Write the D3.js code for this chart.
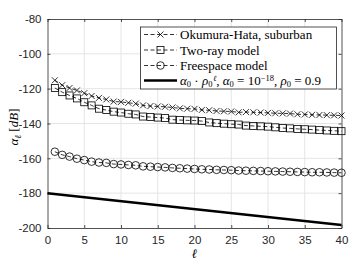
<!DOCTYPE html>
<html lang="en">
<head>
    <meta charset="UTF-8">
    <title>Path loss vs l</title>
    <script src="https://d3js.org/d3.v7.min.js"></script>
    <style>
        body { margin: 0; background: #fff; }
        svg { display: block; }
    </style>
</head>
<body>
    <svg width="357" height="268"></svg>
    <script>
        // x values (link index l)
        const ell = d3.range(1, 41);
        const xTicks = [0, 5, 10, 15, 20, 25, 30, 35, 40];
        const yTicks = [-80, -100, -120, -140, -160, -180, -200];

        const okumura = [-115.2, -118.0, -119.6, -121.0, -122.6, -124.2, -125.3, -126.2, -127.4, -127.6,
                         -128.1, -128.6, -129.6, -130.0, -130.2, -130.4, -130.8, -131.3, -131.5, -131.6,
                         -132.2, -132.4, -132.8, -133.0, -133.1, -133.6, -133.4, -133.6, -133.7, -133.9,
                         -134.1, -134.2, -134.3, -134.7, -134.8, -135.0, -135.1, -135.2, -135.3, -135.4];
        const tworay = [-119.6, -122.0, -123.9, -125.6, -127.8, -129.6, -131.5, -132.3, -133.2, -133.7,
                        -134.4, -134.8, -136.0, -136.3, -136.6, -136.9, -137.8, -138.0, -138.2, -138.3,
                        -138.6, -139.4, -139.8, -140.1, -140.4, -140.6, -141.2, -141.4, -141.6, -141.8,
                        -142.2, -142.6, -142.8, -143.1, -143.3, -143.5, -143.8, -144.0, -144.2, -144.4];
        const freespace = [-156.2, -158.0, -159.0, -160.2, -161.0, -161.9, -162.4, -162.6, -163.3, -163.5,
                           -163.8, -164.0, -164.6, -164.8, -165.0, -165.2, -165.5, -165.7, -165.9, -166.1,
                           -166.3, -166.4, -166.6, -166.7, -166.8, -167.0, -167.1, -167.2, -167.3, -167.4,
                           -167.5, -167.6, -167.7, -167.8, -167.9, -168.0, -168.0, -168.1, -168.2, -168.3];
        // alpha0 * rho0^l in dB, end points only (straight line)
        const refX = [0, 40];
        const refY = [-180, -198.3];

        const svg = d3.select("svg");
        const margin = { left: 47.5, right: 15.5, top: 19, bottom: 40 };
        const W = 357, H = 268;
        const serif = "'Liberation Serif', 'DejaVu Serif', serif";

        const x = d3.scaleLinear().domain([0, 40]).range([margin.left, W - margin.right]);
        const y = d3.scaleLinear().domain([-200, -80]).range([H - margin.bottom, margin.top]);

        // grid
        const grid = svg.append("g").attr("stroke", "#e5e5e5").attr("stroke-width", 1);
        grid.selectAll("line.vx").data(xTicks.slice(1, -1)).enter().append("line")
            .attr("x1", d => x(d)).attr("x2", d => x(d))
            .attr("y1", y(-80)).attr("y2", y(-200));
        grid.selectAll("line.hy").data(yTicks.slice(1, -1)).enter().append("line")
            .attr("x1", x(0)).attr("x2", x(40))
            .attr("y1", d => y(d)).attr("y2", d => y(d));

        // axes
        const axisColor = "#262626";
        const fmt = d => String(d);
        const gx = svg.append("g").attr("transform", `translate(0,${y(-200)})`)
            .call(d3.axisBottom(x).tickValues(xTicks).tickSizeInner(-3).tickSizeOuter(0).tickPadding(8).tickFormat(fmt));
        const gxt = svg.append("g").attr("transform", `translate(0,${y(-80)})`)
            .call(d3.axisTop(x).tickValues(xTicks).tickSizeInner(-3).tickSizeOuter(0).tickFormat(""));
        const gy = svg.append("g").attr("transform", `translate(${x(0)},0)`)
            .call(d3.axisLeft(y).tickValues(yTicks).tickSizeInner(-3).tickSizeOuter(0).tickPadding(6).tickFormat(fmt));
        const gyr = svg.append("g").attr("transform", `translate(${x(40)},0)`)
            .call(d3.axisRight(y).tickValues(yTicks).tickSizeInner(-3).tickSizeOuter(0).tickFormat(""));
        [gx, gxt, gy, gyr].forEach(g => {
            g.selectAll("path, line").attr("stroke", axisColor).attr("stroke-width", 0.8);
            g.selectAll("text").attr("fill", axisColor).attr("font-size", 11.5)
                .attr("font-family", "'Liberation Sans', Arial, sans-serif");
        });

        // data lines
        const line = d3.line().x(d => x(d[0])).y(d => y(d[1]));
        const series = [
            { vals: okumura, marker: "x" },
            { vals: tworay, marker: "s" },
            { vals: freespace, marker: "o" }
        ];

        function drawMarker(g, type, cx, cy) {
            if (type === "x") {
                g.append("path").attr("d", `M${cx - 3},${cy - 3}L${cx + 3},${cy + 3}M${cx - 3},${cy + 3}L${cx + 3},${cy - 3}`)
                    .attr("stroke", "#000").attr("stroke-width", 0.8).attr("fill", "none");
            } else if (type === "s") {
                g.append("rect").attr("x", cx - 3.5).attr("y", cy - 3.5).attr("width", 7).attr("height", 7)
                    .attr("stroke", "#000").attr("stroke-width", 0.8).attr("fill", "none");
            } else {
                g.append("circle").attr("cx", cx).attr("cy", cy).attr("r", 3.8)
                    .attr("stroke", "#000").attr("stroke-width", 0.8).attr("fill", "none");
            }
        }

        series.forEach(s => {
            const pts = ell.map((l, i) => [l, s.vals[i]]);
            svg.append("path").datum(pts).attr("d", line)
                .attr("fill", "none").attr("stroke", "#000").attr("stroke-width", 0.8)
                .attr("stroke-dasharray", "4,2.5");
            const g = svg.append("g");
            pts.forEach(p => drawMarker(g, s.marker, x(p[0]), y(p[1])));
        });

        svg.append("path").datum(refX.map((v, i) => [v, refY[i]])).attr("d", line)
            .attr("fill", "none").attr("stroke", "#000").attr("stroke-width", 2.5);

        // legend
        const lg = svg.append("g").attr("font-family", serif).attr("font-size", 13).attr("fill", "#000");
        lg.append("rect").attr("x", 140.5).attr("y", 27).attr("width", 196).attr("height", 62)
            .attr("fill", "#fff").attr("stroke", axisColor).attr("stroke-width", 0.8);
        const rows = [34.5, 50, 65.5, 80.5];
        const labels = ["Okumura-Hata, suburban", "Two-ray model", "Freespace model"];
        ["x", "s", "o"].forEach((m, i) => {
            lg.append("line").attr("x1", 144).attr("x2", 177).attr("y1", rows[i]).attr("y2", rows[i])
                .attr("stroke", "#000").attr("stroke-width", 0.8).attr("stroke-dasharray", "4,2.5");
            drawMarker(lg, m, 160.5, rows[i]);
            lg.append("text").attr("x", 180).attr("y", rows[i] + 4.5).text(labels[i]);
        });
        lg.append("line").attr("x1", 144).attr("x2", 177).attr("y1", rows[3]).attr("y2", rows[3])
            .attr("stroke", "#000").attr("stroke-width", 2.5);
        const t = lg.append("text").attr("x", 180).attr("y", rows[3] + 4.5);
        t.append("tspan").attr("font-style", "italic").text("α");
        t.append("tspan").attr("font-size", 8.5).attr("dy", 2).text("0");
        t.append("tspan").attr("dy", -2).text(" · ");
        t.append("tspan").attr("font-style", "italic").text("ρ");
        t.append("tspan").attr("font-size", 8.5).attr("dy", 2).text("0");
        t.append("tspan").attr("font-size", 8).attr("font-style", "italic").attr("dx", 0.5).attr("dy", -6).text("ℓ");
        t.append("tspan").attr("dy", 4).text(", ");
        t.append("tspan").attr("font-style", "italic").text("α");
        t.append("tspan").attr("font-size", 8.5).attr("dy", 2).text("0");
        t.append("tspan").attr("dy", -2).text(" = 10");
        t.append("tspan").attr("font-size", 8.5).attr("dy", -4).text("−18");
        t.append("tspan").attr("dy", 4).text(", ");
        t.append("tspan").attr("font-style", "italic").text("ρ");
        t.append("tspan").attr("font-size", 8.5).attr("dy", 2).text("0");
        t.append("tspan").attr("dy", -2).text(" = 0.9");

        // axis labels
        svg.append("text").attr("x", x(20)).attr("y", 258).attr("text-anchor", "middle")
            .attr("font-family", serif).attr("font-style", "italic").attr("font-size", 13)
            .text("ℓ");
        const yl = svg.append("text").attr("transform", `translate(18,${y(-142)}) rotate(-90)`)
            .attr("text-anchor", "middle").attr("font-family", serif).attr("font-size", 13);
        yl.append("tspan").attr("font-style", "italic").text("α");
        yl.append("tspan").attr("font-style", "italic").attr("font-size", 9).attr("dy", 3).text("ℓ");
        yl.append("tspan").attr("dy", -3).text(" [");
        yl.append("tspan").attr("font-style", "italic").text("dB");
        yl.append("tspan").text("]");
    </script>
</body>
</html>
